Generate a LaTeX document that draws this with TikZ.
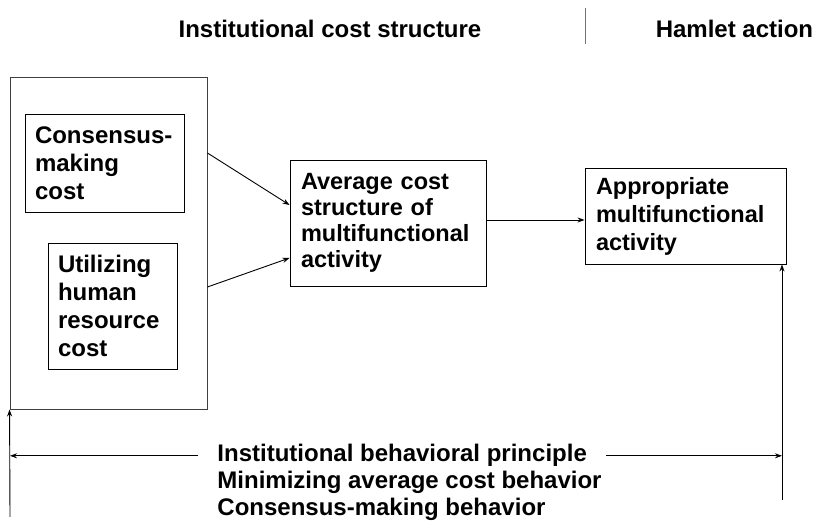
\documentclass[tikz,border=0pt]{standalone}
\usepackage{fontspec}
\setmainfont{Liberation Sans}
\usetikzlibrary{arrows.meta}

\begin{document}
\begin{tikzpicture}[->,>={Stealth[length=7pt,width=5pt]},x=1pt,y=1pt,line width=0.9pt,
        heading/.style={inner sep=0pt,font=\bfseries\fontsize{24}{28}\selectfont},
        costbox/.style={draw=black,align=left,inner xsep=10pt,inner ysep=1pt,font=\bfseries\fontsize{24}{28}\selectfont},
        smallbox/.style={costbox,inner xsep=11pt,font=\bfseries\fontsize{23.5}{26}\selectfont}]
                \useasboundingbox (0,0) rectangle (815,521);
                \node[heading,anchor=base](costhead)at(330, 483){Institutional cost structure};
                \node[heading,anchor=base](hamlethead)at(734.5, 483){Hamlet action};
                \coordinate(divtop)at(585, 513);
                \coordinate(divbot)at(585, 477);
                \draw[-,black!55](divtop)--(divbot);

                \node[draw=black!75,minimum width=197pt,minimum height=332pt,inner sep=0pt](outer)at(108.5, 278){};
                \node[costbox,text width=139pt,minimum height=98pt](consensus)at(104.5, 358){\mbox{Consensus-}\\making\\cost};
                \node[costbox,text width=109pt,minimum height=126pt](human)at(112.5, 215){Utilizing\\human\\resource\\cost};
                \node[smallbox,text width=174pt,minimum height=126pt](average)at(388, 298){Average cost\\structure of\\multifunctional\\activity};
                \node[smallbox,font=\bfseries\fontsize{23.5}{28}\selectfont,text width=179pt,minimum height=96pt](appropriate)at(685.5, 305){Appropriate\\multifunctional\\activity};

                \node[heading,inner xsep=19pt,anchor=base west](principle)at(198, 59){Institutional behavioral principle};
                \node[heading,anchor=base west](minimizing)at(217, 32){Minimizing average cost behavior};
                \node[heading,anchor=base west](consensusbeh)at(217, 5){Consensus-making behavior};
                \coordinate(leftfoot)at(10, 4);
                \coordinate(rightfoot)at(782, 21);

                \path[]([yshift=90pt]outer.east) edge ([yshift=18pt]average.west)
                ([yshift=-44pt]outer.east) edge ([yshift=-35pt]average.west)
                ([yshift=3pt]average.east) edge ([yshift=3pt]average.east -| appropriate.west)
                (leftfoot) edge (outer.south west)
                (rightfoot) edge (rightfoot |- appropriate.south)
                (principle.west) edge (principle.west -| leftfoot)
                (principle.east) edge (principle.east -| rightfoot);
            \end{tikzpicture}
\end{document}
